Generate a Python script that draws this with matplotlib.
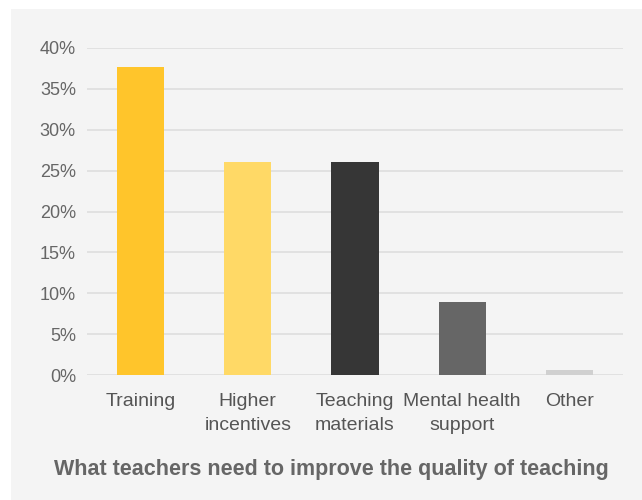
import matplotlib.pyplot as plt
from matplotlib.patches import Rectangle
from matplotlib.ticker import FuncFormatter

categories = ["Training", "Higher\nincentives", "Teaching\nmaterials", "Mental health\nsupport", "Other"]
shares = [37.7, 26.1, 26.1, 8.9, 0.6]
bar_colors = ["#FFC52B", "#FFD966", "#363636", "#666666", "#D0D0D0"]
y_ticks = [0, 5, 10, 15, 20, 25, 30, 35, 40]
title = "What teachers need to improve the quality of teaching"

plt.rcParams["font.family"] = ["Liberation Sans", "DejaVu Sans"]

W, H = 642, 500
fig = plt.figure(figsize=(W / 100, H / 100), dpi=100)
fig.patch.set_facecolor("white")

# grey panel behind the chart
fig.patches.append(Rectangle((11 / W, 0), 1 - 11 / W, (H - 9) / H,
                             transform=fig.transFigure, facecolor="#F4F4F4",
                             edgecolor="none", zorder=-1))

ax = fig.add_axes([87 / W, (H - 375) / H, (623 - 87) / W, (375 - 48) / H])
ax.set_zorder(2)
ax.patch.set_visible(False)

x = range(len(categories))
ax.bar(x, shares, width=0.44, color=bar_colors, zorder=3)

ax.set_xlim(-0.5, len(categories) - 0.5)
ax.set_ylim(0, 40)
ax.set_yticks(y_ticks)
ax.yaxis.set_major_formatter(FuncFormatter(lambda v, _: f"{v:.0f}%"))
ax.set_xticks(list(x))
ax.set_xticklabels(categories, fontsize=14, color="#555555", linespacing=1.5)
ax.tick_params(axis="y", labelsize=13, labelcolor="#666666", length=0, pad=8)
ax.tick_params(axis="x", length=0, pad=13)

ax.grid(axis="y", color="#DEDEDE", linewidth=1.2, zorder=0)
for s in ax.spines.values():
    s.set_visible(False)

fig.text(331 / W, 1 - 469 / H, title, ha="center", va="center",
         fontsize=15.5, fontweight="bold", color="#666666", zorder=3)

fig.savefig("out.png", dpi=100)
